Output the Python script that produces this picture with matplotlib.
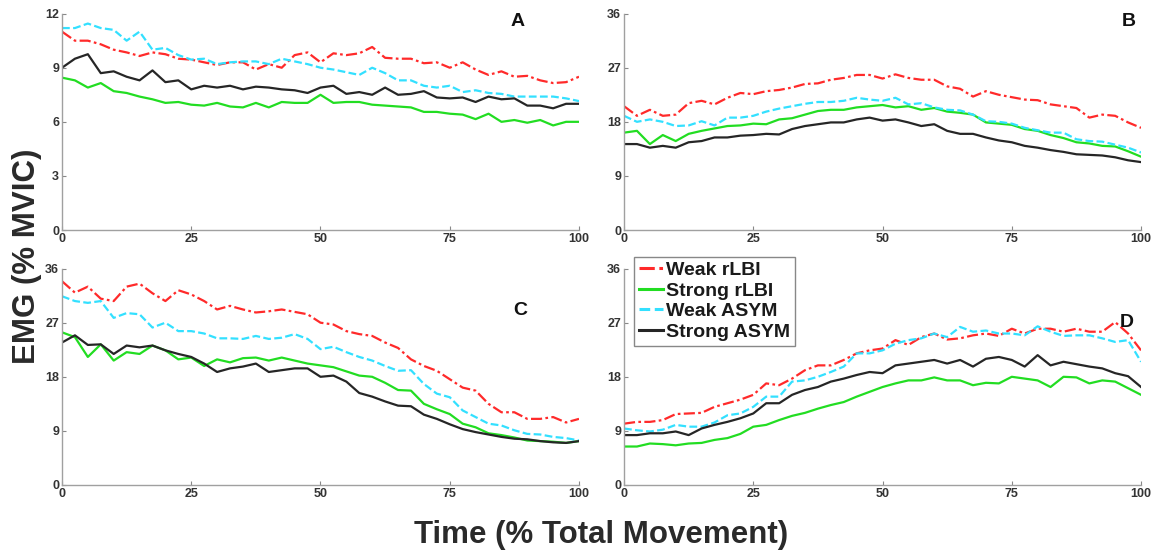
import numpy as np
import matplotlib
matplotlib.use("Agg")
import matplotlib.pyplot as plt

plt.rcParams['font.family'] = ['Liberation Sans', 'DejaVu Sans']

# время, % от всего движения (шаг 2.5)
time = np.linspace(0, 100, 41)

# Панель A
a_weak_rlbi = [11.0, 10.5, 10.5, 10.3, 10.0, 9.85, 9.65, 9.85, 9.75, 9.5, 9.45, 9.3, 9.15, 9.3, 9.3, 8.9,
               9.2, 9.0, 9.7, 9.85, 9.3, 9.8, 9.7, 9.8, 10.15, 9.55, 9.5, 9.5, 9.25, 9.3, 9.0, 9.3, 8.9,
               8.6, 8.8, 8.5, 8.55, 8.3, 8.15, 8.2, 8.5]
a_strong_rlbi = [8.45, 8.3, 7.9, 8.15, 7.7, 7.6, 7.4, 7.25, 7.05, 7.1, 6.95, 6.9, 7.05, 6.85, 6.8, 7.05,
                 6.8, 7.1, 7.05, 7.05, 7.5, 7.05, 7.1, 7.1, 6.95, 6.9, 6.85, 6.8, 6.55, 6.55, 6.45, 6.4,
                 6.15, 6.45, 6.0, 6.1, 5.95, 6.1, 5.8, 6.0, 6.0]
a_weak_asym = [11.2, 11.2, 11.45, 11.2, 11.1, 10.5, 11.0, 10.0, 10.1, 9.7, 9.45, 9.5, 9.2, 9.3, 9.35, 9.35,
               9.2, 9.5, 9.35, 9.2, 9.0, 8.9, 8.75, 8.6, 9.0, 8.7, 8.3, 8.3, 8.0, 7.9, 8.0, 7.65, 7.75,
               7.6, 7.55, 7.4, 7.4, 7.4, 7.4, 7.3, 7.15]
a_strong_asym = [9.0, 9.5, 9.75, 8.7, 8.8, 8.5, 8.3, 8.85, 8.2, 8.3, 7.8, 8.0, 7.9, 8.0, 7.8, 7.95, 7.9,
                 7.8, 7.75, 7.6, 7.9, 8.0, 7.55, 7.65, 7.5, 7.9, 7.5, 7.55, 7.7, 7.35, 7.3, 7.35, 7.1,
                 7.4, 7.25, 7.3, 6.9, 6.9, 6.75, 7.0, 7.0]

# Панель B
b_weak_rlbi = [20.6, 19.0, 20.0, 19.0, 19.2, 21.1, 21.5, 20.9, 22.0, 22.8, 22.6, 23.1, 23.3, 23.7, 24.3,
               24.4, 25.0, 25.3, 25.8, 25.8, 25.2, 25.9, 25.3, 25.0, 25.0, 23.9, 23.5, 22.2, 23.1, 22.5,
               22.1, 21.7, 21.6, 20.9, 20.6, 20.3, 18.7, 19.2, 19.0, 17.9, 17.0]
b_strong_rlbi = [16.2, 16.5, 14.3, 15.8, 14.8, 16.0, 16.5, 16.9, 17.3, 17.4, 17.7, 17.6, 18.4, 18.6, 19.2,
                 19.8, 20.0, 20.0, 20.4, 20.6, 20.8, 20.4, 20.6, 20.0, 20.3, 19.7, 19.5, 19.2, 17.9, 17.7,
                 17.5, 16.8, 16.5, 15.8, 15.3, 14.6, 14.4, 14.0, 13.9, 13.1, 12.2]
b_weak_asym = [19.0, 18.0, 18.4, 18.0, 17.3, 17.4, 18.1, 17.4, 18.7, 18.7, 19.0, 19.7, 20.2, 20.6, 21.0,
               21.3, 21.3, 21.5, 22.0, 21.7, 21.5, 22.0, 20.9, 21.1, 20.4, 20.0, 19.9, 19.2, 18.1, 18.0,
               17.7, 17.0, 16.6, 16.2, 16.2, 15.1, 14.8, 14.7, 14.2, 13.7, 12.9]
b_strong_asym = [14.3, 14.3, 13.7, 14.0, 13.7, 14.6, 14.8, 15.4, 15.4, 15.7, 15.8, 16.0, 15.9, 16.8, 17.3,
                 17.6, 17.9, 17.9, 18.4, 18.7, 18.2, 18.4, 17.9, 17.3, 17.6, 16.5, 16.0, 16.0, 15.4, 14.9,
                 14.6, 14.0, 13.7, 13.3, 13.0, 12.6, 12.5, 12.4, 12.1, 11.6, 11.3]

# Панель C
c_weak_rlbi = [33.9, 32.0, 33.0, 31.0, 30.6, 33.0, 33.5, 31.9, 30.6, 32.4, 31.7, 30.6, 29.2, 29.8, 29.2,
               28.7, 28.9, 29.2, 28.8, 28.4, 27.0, 26.7, 25.6, 25.1, 24.8, 23.7, 22.8, 20.9, 19.8, 19.0,
               17.6, 16.2, 15.7, 13.5, 12.1, 12.1, 11.0, 11.0, 11.3, 10.4, 11.0]
c_strong_rlbi = [25.4, 24.6, 21.3, 23.4, 20.7, 22.1, 21.8, 23.2, 22.4, 20.9, 21.2, 19.8, 20.9, 20.4, 21.1,
                 21.2, 20.7, 21.2, 20.7, 20.2, 19.9, 19.6, 18.9, 18.2, 18.0, 17.0, 15.8, 15.7, 13.5, 12.6,
                 11.8, 10.2, 9.6, 8.6, 8.3, 7.9, 7.4, 7.3, 7.2, 7.0, 7.3]
c_weak_asym = [31.4, 30.6, 30.3, 30.6, 27.8, 28.6, 28.4, 26.2, 27.0, 25.6, 25.6, 25.2, 24.4, 24.4, 24.3,
               24.8, 24.3, 24.5, 25.1, 24.3, 22.6, 23.0, 22.1, 21.3, 20.7, 19.8, 19.0, 19.1, 16.8, 15.2,
               14.6, 12.4, 11.3, 10.2, 9.9, 9.1, 8.5, 8.4, 8.0, 7.8, 7.4]
c_strong_asym = [23.7, 24.9, 23.3, 23.4, 21.8, 23.2, 22.9, 23.2, 22.4, 21.8, 21.3, 20.2, 18.8, 19.4, 19.7,
                 20.2, 18.8, 19.1, 19.4, 19.4, 18.0, 18.2, 17.2, 15.3, 14.7, 13.9, 13.2, 13.1, 11.7, 11.0,
                 10.1, 9.3, 8.8, 8.4, 8.0, 7.7, 7.6, 7.3, 7.1, 7.0, 7.3]

# Панель D
d_weak_rlbi = [10.2, 10.5, 10.5, 10.8, 11.8, 11.9, 12.0, 13.0, 13.6, 14.2, 15.0, 16.9, 16.6, 17.7, 19.1,
               19.9, 19.9, 20.8, 21.9, 22.4, 22.7, 24.1, 23.3, 24.6, 25.2, 24.2, 24.4, 24.9, 25.2, 24.8,
               26.0, 25.2, 26.0, 26.0, 25.5, 26.0, 25.5, 25.5, 27.1, 25.2, 22.4]
d_strong_rlbi = [6.4, 6.4, 6.9, 6.8, 6.6, 6.9, 7.0, 7.5, 7.8, 8.5, 9.7, 10.0, 10.8, 11.5, 12.0, 12.7, 13.3,
                 13.8, 14.7, 15.5, 16.3, 16.9, 17.4, 17.4, 17.9, 17.4, 17.4, 16.6, 17.0, 16.9, 18.0, 17.7,
                 17.4, 16.3, 18.0, 17.9, 16.9, 17.4, 17.2, 16.1, 15.0]
d_weak_asym = [9.4, 9.1, 8.9, 9.2, 10.0, 9.7, 9.7, 10.4, 11.6, 11.9, 13.0, 14.7, 14.7, 17.2, 17.4, 18.0,
               18.8, 19.7, 21.9, 21.9, 22.4, 23.5, 24.1, 24.4, 25.2, 24.6, 26.3, 25.5, 25.7, 25.2, 25.2,
               24.9, 26.4, 25.5, 24.8, 24.9, 24.9, 24.4, 23.8, 24.1, 20.5]
d_strong_asym = [8.3, 8.3, 8.6, 8.6, 8.9, 8.3, 9.4, 10.0, 10.5, 11.1, 11.9, 13.6, 13.6, 15.0, 15.8, 16.3,
                 17.2, 17.7, 18.3, 18.8, 18.6, 19.9, 20.2, 20.5, 20.8, 20.2, 20.8, 19.7, 21.0, 21.3, 20.8,
                 19.7, 21.6, 19.9, 20.5, 20.1, 19.7, 19.4, 18.6, 18.1, 16.3]

labels = ['Weak rLBI', 'Strong rLBI', 'Weak ASYM', 'Strong ASYM']
colors = ['#ff2a2a', '#22dd22', '#33e0ff', '#262626']
styles = [(0, (5, 1.5, 1.2, 1.5)), '-', (0, (3.5, 1.5)), '-']

panels = [
    ('A', [a_weak_rlbi, a_strong_rlbi, a_weak_asym, a_strong_asym], 12, [0.0534, 0.5833]),
    ('B', [b_weak_rlbi, b_strong_rlbi, b_weak_asym, b_strong_asym], 36, [0.5375, 0.5833]),
    ('C', [c_weak_rlbi, c_strong_rlbi, c_weak_asym, c_strong_asym], 36, [0.0534, 0.1214]),
    ('D', [d_weak_rlbi, d_strong_rlbi, d_weak_asym, d_strong_asym], 36, [0.5375, 0.1214]),
]
letter_pos = {'A': (0.895, 0.965), 'B': (0.99, 0.965), 'C': (0.90, 0.805), 'D': (0.985, 0.75)}

fig = plt.figure(figsize=(11.61, 5.52), dpi=100)

for name, series, ymax, (left, bottom) in panels:
    ax = fig.add_axes([left, bottom, 0.4453, 0.392])
    for vals, lab, col, ls in zip(series, labels, colors, styles):
        ax.plot(time, vals, color=col, linestyle=ls, linewidth=1.6, label=lab)
    ax.set_xlim(0, 100)
    ax.set_ylim(0, ymax)
    ax.set_xticks([0, 25, 50, 75, 100])
    ax.set_yticks(np.linspace(0, ymax, 5))
    ax.set_yticklabels([str(int(v)) for v in np.linspace(0, ymax, 5)])
    for s in ['top', 'right']:
        ax.spines[s].set_visible(False)
    for s in ['left', 'bottom']:
        ax.spines[s].set_color('#a0a0a0')
        ax.spines[s].set_linewidth(1.0)
    ax.tick_params(direction='in', length=3, width=0.8, color='#888888', labelsize=9,
                   labelcolor='#333333', pad=2)
    for t in ax.get_xticklabels() + ax.get_yticklabels():
        t.set_fontweight('bold')
    lx, ly = letter_pos[name]
    ax.text(lx, ly, name, transform=ax.transAxes, fontsize=14, fontweight='bold',
            ha='right', va='center', color='#111111')
    if name == 'D':
        leg = ax.legend(loc='upper left', bbox_to_anchor=(0.02, 1.055),
                        prop={'weight': 'bold', 'size': 14}, handlelength=1.2, handletextpad=0.2,
                        labelspacing=0.15, borderpad=0.25, borderaxespad=0, fancybox=False,
                        framealpha=1)
        leg.get_frame().set_edgecolor('#888888')
        leg.get_frame().set_linewidth(1.0)
        for t in leg.get_texts():
            t.set_color('#1a1a1a')
        for line in leg.get_lines():
            line.set_linewidth(2.2)

fig.text(0.518, 0.031, 'Time (% Total Movement)', ha='center', va='center',
         fontsize=22.5, fontweight='bold', color='#2a2a2a')
fig.text(0.023, 0.536, 'EMG (% MVIC)', ha='center', va='center', rotation=90,
         fontsize=22.5, fontweight='bold', color='#2a2a2a')

fig.savefig('out.png', dpi=100)
